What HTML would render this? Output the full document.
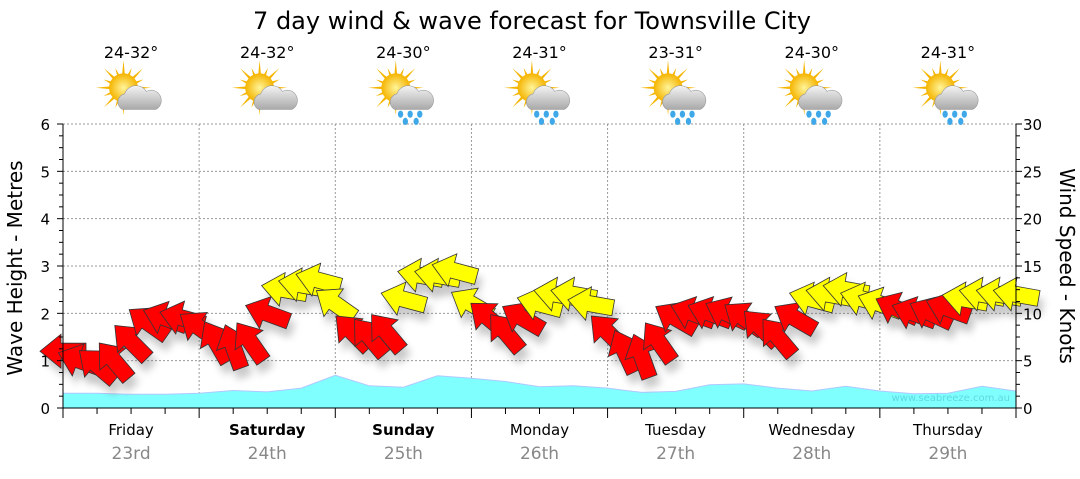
<!DOCTYPE html>
<html><head><meta charset="utf-8"><style>
body{margin:0;background:#fff;width:1080px;height:475px;overflow:hidden;font-family:"DejaVu Sans","Liberation Sans",sans-serif}
text{font-family:"DejaVu Sans","Liberation Sans",sans-serif}
</style></head><body>
<svg id="chart" width="1080" height="475">
<defs>
<filter id="sh" x="-50%" y="-50%" width="200%" height="200%"><feGaussianBlur stdDeviation="4"/></filter>
<radialGradient id="sun" cx="0.5" cy="0.5" r="0.5"><stop offset="0" stop-color="#fff59a"/><stop offset="1" stop-color="#f5b400"/></radialGradient>
<linearGradient id="cloud" x1="0" y1="0" x2="0" y2="1"><stop offset="0" stop-color="#f4f4f4"/><stop offset="1" stop-color="#a9a9a9"/></linearGradient>
</defs>
<text x="532" y="29" font-size="24" text-anchor="middle">7 day wind &amp; wave forecast for Townsville City</text>
<g id="grid"></g>
<g id="wave"></g>
<g id="shadows" opacity="0.35"></g>
<g id="arrows"></g>
<g id="axes"></g>
<g id="topg"></g>
<text x="1010" y="401" font-size="10" fill="#5fd8e0" text-anchor="end">www.seabreeze.com.au</text>
<text transform="translate(22,268) rotate(-90)" font-size="20" text-anchor="middle">Wave Height - Metres</text>
<text transform="translate(1060,266) rotate(90)" font-size="20" text-anchor="middle">Wind Speed - Knots</text>
</svg>
<script>
const days=["Friday","Saturday","Sunday","Monday","Tuesday","Wednesday","Thursday"];
const dates=["23rd","24th","25th","26th","27th","28th","29th"];
const boldDays=[false,true,true,false,false,false,false];
const temps=["24-32°","24-32°","24-30°","24-31°","23-31°","24-30°","24-31°"];
const rain=[false,false,true,true,true,true,true];
const waveHeights=[0.31,0.31,0.29,0.29,0.31,0.37,0.34,0.42,0.69,0.47,0.44,0.68,0.63,0.56,0.45,0.47,0.42,0.33,0.35,0.49,0.51,0.42,0.36,0.46,0.36,0.30,0.31,0.46,0.36];
const windSpeeds=[6,5,4.5,5,7,9,9.5,9.5, 8.5,7,6.5,7,10,12.5,13,13.5, 11,8,7.5,8,11.5,14,14,14.5, 11,9.5,8,9.5,11,12,12,11, 8,6,5.5,7,9.5,10,10,10, 9.5,8.5,7.5,9.5,11.5,12,12.5,11.5, 11,10.5,10,10,10.5,11.5,12,12,12];
const windDirs=[180,200,220,230,225,215,200,195, 215,240,250,235,200,190,190,195, 215,225,230,230,195,190,190,195, 210,220,230,210,195,190,190,190, 225,245,250,235,210,200,200,205, 215,225,230,210,195,190,190,195, 200,205,200,205,200,190,190,190,190];
const leftTicks=[0,1,2,3,4,5,6];
const rightTicks=[0,5,10,15,20,25,30];

const NS="http://www.w3.org/2000/svg";
const X0=63,X1=1016,Y0=408,Y1=124,DAYW=(X1-X0)/7;
const yM=v=>Y0-(v/6)*(Y0-Y1);
const yK=v=>Y0-(v/30)*(Y0-Y1);
const xH=h=>X0+h/168*(X1-X0);
function el(t,a,p){const e=document.createElementNS(NS,t);for(const k in a)e.setAttribute(k,a[k]);p.appendChild(e);return e;}
const grid=document.getElementById('grid'),axes=document.getElementById('axes'),topG=document.getElementById('topg');
leftTicks.forEach(v=>{if(v>0){const l=el('line',{x1:X0,x2:X1,y1:yM(v),y2:yM(v),stroke:'#999','stroke-dasharray':'2,2'},grid);

}});
for(let d=1;d<7;d++){const l=el('line',{x1:X0+d*DAYW,x2:X0+d*DAYW,y1:Y1,y2:Y0,stroke:'#999','stroke-dasharray':'2,2'},grid);

}
let d='M'+X0+','+Y0;
waveHeights.forEach((v,i)=>{d+=' L'+xH(i*6).toFixed(1)+','+yM(v).toFixed(1);});
d+=' L'+X1+','+Y0+' Z';
const wa=el('path',{d:d,fill:'#80ffff',stroke:'#b0c8ff','stroke-width':1},document.getElementById('wave'));


const arr=document.getElementById('arrows'),shd=document.getElementById('shadows');
const pts="-23,-8 2,-8 2,-17 23,0 2,17 2,8 -23,8";
windSpeeds.forEach((v,i)=>{
  const x=xH(i*3),y=yK(v);
  const s=el('polygon',{points:pts,fill:'#666',filter:'url(#sh)',transform:`translate(${x+4},${y+9}) rotate(${windDirs[i]})`},shd);
  
  
  const a=el('polygon',{points:pts,fill:v>=11?'#ffff00':'#ff0000',stroke:'#333','stroke-width':0.8,transform:`translate(${x},${y}) rotate(${windDirs[i]})`},arr);
  
  
});
el('line',{x1:X0,x2:X0,y1:Y1,y2:Y0,stroke:'#000'},axes);
el('line',{x1:X1,x2:X1,y1:Y1,y2:Y0,stroke:'#000'},axes);
el('line',{x1:X0,x2:X1,y1:Y0,y2:Y0,stroke:'#000'},axes);
for(let k=0;k<=24;k++){const y=Y0-k*(Y0-Y1)/24,len=k%4==0?6:4;
  el('line',{x1:X0-len,x2:X0,y1:y,y2:y,stroke:'#000'},axes);
  el('line',{x1:X1,x2:X1+len,y1:y,y2:y,stroke:'#000'},axes);}
leftTicks.forEach(v=>{const t=el('text',{x:50,y:yM(v)+6,'font-size':15,'text-anchor':'end'},axes);t.textContent=v;

});
rightTicks.forEach(v=>{const t=el('text',{x:1023,y:yK(v)+6,'font-size':15},axes);t.textContent=v;

});
for(let k=0;k<=28;k++){const x=X0+k*DAYW/4;el('line',{x1:x,x2:x,y1:Y0,y2:Y0+(k%4==0?10:6),stroke:'#000'},axes);}
days.forEach((n,i)=>{const cx=X0+DAYW*(i+0.5);
  const t=el('text',{x:cx,y:435,'font-size':15,'text-anchor':'middle','font-weight':boldDays[i]?'bold':'normal'},axes);t.textContent=n;
  
  
  const t2=el('text',{x:cx,y:459,'font-size':17,'text-anchor':'middle',fill:'#888'},axes);t2.textContent=dates[i];
  
  
  const t3=el('text',{x:cx,y:58,'font-size':16,'text-anchor':'middle'},topG);t3.textContent=temps[i];
  
  
  const g=el('g',{transform:`translate(${cx+2},95) scale(1.2)`},topG);
  
  
  for(let r=0;r<16;r++){const an=r*22.5*Math.PI/180,L=r%2?18:23;
    el('polygon',{points:`${-8+Math.cos(an)*L},${-6+Math.sin(an)*L} ${-8+Math.cos(an+0.15)*9},${-6+Math.sin(an+0.15)*9} ${-8+Math.cos(an-0.15)*9},${-6+Math.sin(an-0.15)*9}`,fill:'#f5b400'},g);}
  el('circle',{cx:-8,cy:-6,r:12,fill:'url(#sun)'},g);
  el('path',{d:'M-9,12 a7,7 0 0,1 2,-13 a10,10 0 0,1 18,-2 a8,8 0 0,1 8,15 z',fill:'url(#cloud)',stroke:'#999','stroke-width':0.5},g);
  if(rain[i]){[[-4,16],[4,16],[12,16],[0,22],[9,22]].forEach(p=>el('ellipse',{cx:p[0],cy:p[1],rx:2.2,ry:3,fill:'#3fa8e8'},g));}
});
</script>
</body></html>
